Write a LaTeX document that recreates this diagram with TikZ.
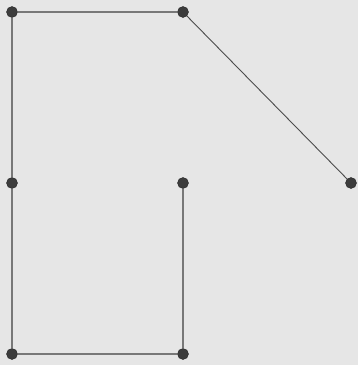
\documentclass[tikz,border=0pt]{standalone}
\usepackage{tikz}
\definecolor{bggray}{RGB}{230,230,230}
\definecolor{edgegray}{RGB}{120,120,120}
\definecolor{dotgray}{RGB}{60,60,60}

\begin{document}
\begin{tikzpicture}[
      x=1pt, y=-1pt,
      every node/.style={circle, draw=black!85, fill=dotgray, inner sep=0pt,
        minimum size=11pt},
      link/.style={draw=edgegray, line width=1.3pt}
    ]
      \fill[bggray] (0,0) rectangle (358,365);
      \useasboundingbox (0,0) rectangle (358,365);
      \node (tl) at (12,12) {};
      \node (tm) at (183,12) {};
      \node (ml) at (12,183) {};
      \node (mm) at (183,183) {};
      \node (mr) at (351,183) {};
      \node (bl) at (12,354) {};
      \node (bm) at (183,354) {};
      \draw[link] (tl) -- (tm);
      \draw[link, line width=0.9pt, draw=black!70] (tm) -- (mr);
      \draw[link] (tl) -- (ml);
      \draw[link] (ml) -- (bl);
      \draw[link] (bl) -- (bm);
      \draw[link] (bm) -- (mm);
    \end{tikzpicture}
\end{document}
